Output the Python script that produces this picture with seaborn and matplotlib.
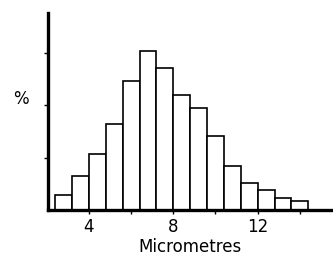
import numpy as np
import matplotlib
matplotlib.use('Agg')
import matplotlib.pyplot as plt
import seaborn as sns

# ── data ──────────────────────────────────────────────────────────
bin_left = [2.4, 3.2, 4.0, 4.8, 5.6, 6.4, 7.2, 8.0, 8.8, 9.6, 10.4, 11.2, 12.0, 12.8, 13.6]
percent = [1.4, 3.2, 5.3, 8.2, 12.3, 15.2, 13.5, 11.0, 9.7, 7.1, 4.2, 2.6, 1.9, 1.15, 0.85]
bin_width = 0.8
major_ticks = [4, 8, 12]
minor_ticks = [6, 10, 14]
y_ticks = [5, 10, 15]

centers = np.array(bin_left) + bin_width / 2

sns.set_style('ticks', {'axes.edgecolor': 'black', 'text.color': 'black',
                        'xtick.color': 'black', 'ytick.color': 'black',
                        'axes.labelcolor': 'black'})
plt.rcParams['font.family'] = ['DejaVu Sans']

fig = plt.figure(figsize=(3.33, 2.58), dpi=100)
ax = fig.add_axes([0.144, 0.186, 0.856, 0.764])

sns.histplot(x=centers, weights=percent, binwidth=bin_width,
             binrange=(bin_left[0], bin_left[-1] + bin_width),
             color='white', edgecolor='black', linewidth=1.2, alpha=1, ax=ax)

ax.set_xlim(2.06, 15.57)
ax.set_ylim(0, 18.8)

for side in ['top', 'right']:
    ax.spines[side].set_visible(False)
ax.spines['left'].set_linewidth(2.4)
ax.spines['bottom'].set_linewidth(2.4)

ax.set_xticks(major_ticks)
ax.set_xticks(minor_ticks, minor=True)
ax.tick_params(axis='x', which='both', length=3, width=1, direction='out', labelsize=12, pad=3)
ax.set_yticks(y_ticks)
ax.set_yticklabels([])
ax.tick_params(axis='y', length=3, width=1, direction='out')

ax.set_xlabel('Micrometres', fontsize=12, labelpad=1.5)
ax.set_ylabel('%', fontsize=12, rotation=0, ha='center', va='center')
ax.yaxis.set_label_coords(-0.095, 0.561)

fig.savefig('out.png', dpi=100)
plt.close()
